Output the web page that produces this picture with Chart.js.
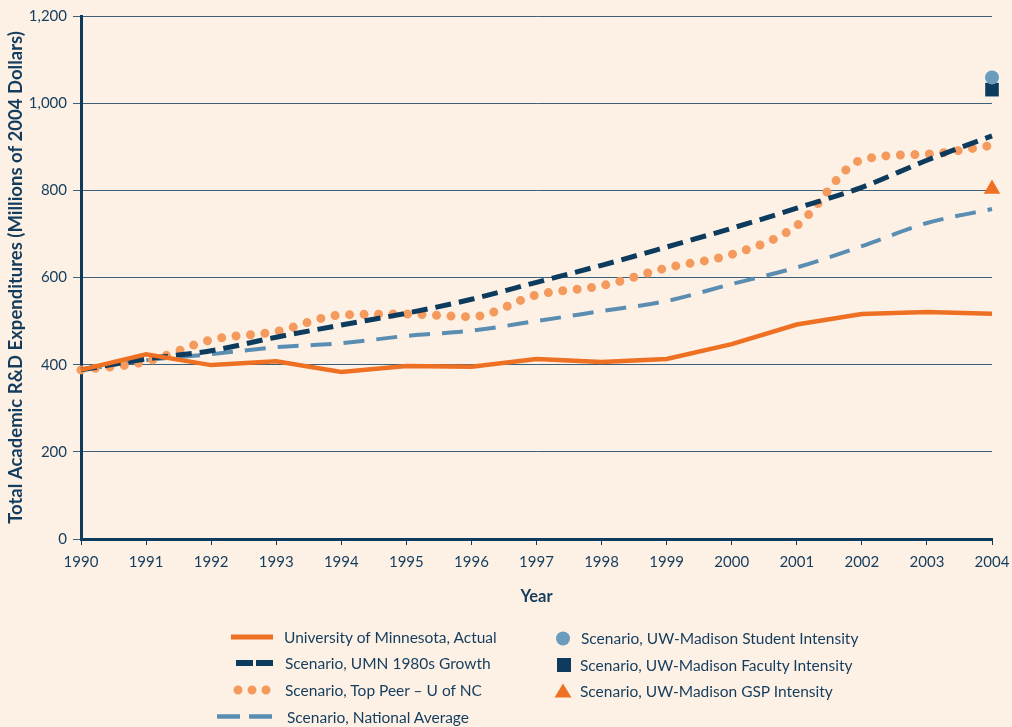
<!DOCTYPE html>
<html>
<head>
<meta charset="utf-8">
<script src="https://cdn.jsdelivr.net/npm/chart.js@4/dist/chart.umd.min.js"></script>
<style>
  body { margin: 0; background: #fdf1e6; width: 1012px; height: 727px; overflow: hidden; position: relative; font-family: Lato, "Open Sans", sans-serif; color: #143c5c; }
  #wrap { position: absolute; left: 0; top: 0; width: 1012px; height: 620px; }
  .leg { position: absolute; font-size: 15.5px; line-height: 18px; white-space: nowrap; transform: translateY(-50%); }
  .sym { position: absolute; overflow: visible; }
</style>
</head>
<body>
<div id="wrap"><canvas id="chartDiv"></canvas></div>
<div id="legendDiv"></div>
<script>
const years = [1990, 1991, 1992, 1993, 1994, 1995, 1996, 1997, 1998, 1999, 2000, 2001, 2002, 2003, 2004];
const actual = [388, 424, 399, 408, 383, 397, 395, 413, 406, 413, 447, 492, 516, 521, 517];
const umn80s = [388, 413, 432, 463, 491, 518, 550, 589, 628, 670, 713, 759, 807, 869, 925];
const topPeer = [388, 407, 457, 476, 514, 516, 510, 560, 581, 622, 653, 719, 870, 883, 903];
const natAvg = [388, 410, 424, 440, 449, 466, 478, 500, 523, 546, 585, 623, 672, 725, 757];
const madisonYear = 2004;
const studentIntensity = 1059;
const facultyIntensity = 1031;
const gspIntensity = 803;
const yTicks = [0, 200, 400, 600, 800, 1000, 1200];

const navy = "#0c3b5d",
  orange = "#ee7023",
  peach = "#f39a5c",
  steel = "#5a8db2",
  skyDot = "#6b9cbd";

const toPoints = (xs, ys) => xs.map((x, i) => ({ x: x, y: ys[i] }));

const ctx = document.getElementById("chartDiv");
const chart = new Chart(ctx, {
  type: "line",
  data: {
    datasets: [
      {
        label: "University of Minnesota, Actual",
        data: toPoints(years, actual),
        borderColor: orange,
        borderWidth: 4.5,
        tension: 0,
        pointRadius: 0,
        order: 2,
      },
      {
        label: "Scenario, UMN 1980s Growth",
        data: toPoints(years, umn80s),
        borderColor: navy,
        borderWidth: 5,
        borderDash: [16, 8],
        cubicInterpolationMode: "monotone",
        pointRadius: 0,
        order: 3,
      },
      {
        label: "Scenario, Top Peer – U of NC",
        data: toPoints(years, topPeer),
        borderColor: peach,
        borderWidth: 9,
        borderDash: [0, 14.5],
        borderCapStyle: "round",
        cubicInterpolationMode: "monotone",
        pointRadius: 0,
        order: 4,
      },
      {
        label: "Scenario, National Average",
        data: toPoints(years, natAvg),
        borderColor: steel,
        borderWidth: 4,
        borderDash: [21, 12],
        cubicInterpolationMode: "monotone",
        pointRadius: 0,
        order: 5,
      },
      {
        type: "scatter",
        label: "Scenario, UW-Madison Student Intensity",
        data: [{ x: madisonYear, y: studentIntensity }],
        pointStyle: "circle",
        pointRadius: 7,
        backgroundColor: skyDot,
        borderWidth: 0,
        order: 1,
      },
      {
        type: "scatter",
        label: "Scenario, UW-Madison Faculty Intensity",
        data: [{ x: madisonYear, y: facultyIntensity }],
        pointStyle: "rect",
        pointRadius: 9.6,
        backgroundColor: navy,
        borderWidth: 0,
        order: 1,
      },
      {
        type: "scatter",
        label: "Scenario, UW-Madison GSP Intensity",
        data: [{ x: madisonYear, y: gspIntensity }],
        pointStyle: "triangle",
        pointRadius: 9.5,
        backgroundColor: orange,
        borderWidth: 0,
        order: 1,
      },
    ],
  },
  options: {
    responsive: true,
    maintainAspectRatio: false,
    animation: false,
    clip: false,
    layout: { padding: { left: 0, top: 16, right: 20, bottom: 0 } },
    plugins: { legend: { display: false }, tooltip: { enabled: false } },
    scales: {
      x: {
        type: "linear",
        min: 1990,
        max: 2004,
        afterFit: (scale) => {
          scale.height = 81;
          scale.paddingLeft = 0;
          scale.paddingRight = 0;
        },
        afterBuildTicks: (scale) => {
          scale.ticks = years.map((v) => ({ value: v }));
        },
        ticks: {
          callback: (v) => String(v),
          color: "#143c5c",
          font: { family: "Lato", size: 15 },
          padding: 8,
          maxRotation: 0,
          autoSkip: false,
        },
        grid: { drawOnChartArea: false, drawTicks: true, tickLength: 6, color: navy, lineWidth: 1 },
        border: { color: navy, width: 3 },
        title: {
          display: true,
          text: "Year",
          color: "#143c5c",
          font: { family: "Lato", size: 16.5, weight: "bold" },
          padding: { top: 0, bottom: 13 },
        },
      },
      y: {
        min: 0,
        max: 1200,
        afterFit: (scale) => {
          scale.width = 81;
          scale.paddingTop = 0;
          scale.paddingBottom = 0;
        },
        afterBuildTicks: (scale) => {
          scale.ticks = yTicks.map((v) => ({ value: v }));
        },
        ticks: {
          callback: (v) => v.toLocaleString("en-US"),
          color: "#143c5c",
          font: { family: "Lato", size: 15 },
          padding: 6,
        },
        grid: { color: "rgba(12,59,93,0.8)", lineWidth: 1, tickLength: 8 },
        border: { color: navy, width: 3 },
        title: {
          display: true,
          text: "Total Academic R&D Expenditures (Millions of 2004 Dollars)",
          color: "#143c5c",
          font: { family: "Lato", size: 18.5, weight: "bold" },
          padding: { top: 5, bottom: 0 },
        },
      },
    },
  },
});

// legend, built from the datasets
const legendDiv = document.querySelector("#legendDiv");
const legendSpots = [
  { x: 284, y: 637, sym: '<line x1="231" y1="637" x2="273" y2="637" stroke="' + orange + '" stroke-width="5"/>' },
  { x: 285, y: 663, sym: '<line x1="236" y1="663" x2="273" y2="663" stroke="' + navy + '" stroke-width="6" stroke-dasharray="17 3"/>' },
  { x: 285, y: 690, sym: '<line x1="238" y1="690" x2="267" y2="690" stroke="' + peach + '" stroke-width="9" stroke-linecap="round" stroke-dasharray="0 14"/>' },
  { x: 287, y: 716.5, sym: '<line x1="217" y1="716.5" x2="272" y2="716.5" stroke="' + steel + '" stroke-width="4.5" stroke-dasharray="23 9"/>' },
  { x: 581, y: 638, sym: '<circle cx="563" cy="638.5" r="7" fill="' + skyDot + '"/>' },
  { x: 580, y: 664.5, sym: '<rect x="557" y="658" width="14" height="14" fill="' + navy + '"/>' },
  { x: 580, y: 690.5, sym: '<polygon points="563,683.5 571.5,697.5 554.5,697.5" fill="' + orange + '"/>' },
];
let svg = '<svg class="sym" width="1012" height="727" style="left:0;top:0">';
legendSpots.forEach((spot) => {
  svg += spot.sym;
});
svg += "</svg>";
let html = svg;
chart.data.datasets.forEach((ds, i) => {
  const spot = legendSpots[i];
  html += '<div class="leg" style="left:' + spot.x + "px;top:" + spot.y + 'px">' + ds.label + "</div>";
});
legendDiv.innerHTML = html;
</script>
</body>
</html>
